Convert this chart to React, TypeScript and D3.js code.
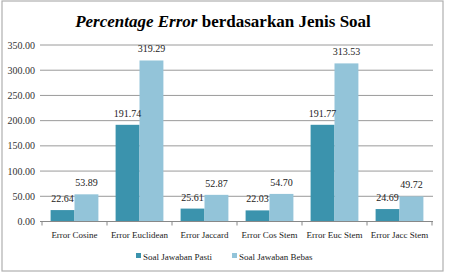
import * as d3 from "d3";
import React from "react";

const categories = [
  "Error Cosine",
  "Error Euclidean",
  "Error Jaccard",
  "Error Cos Stem",
  "Error Euc Stem",
  "Error Jacc Stem",
];
const pasti = [22.64, 191.74, 25.61, 22.03, 191.77, 24.69];
const bebas = [53.89, 319.29, 52.87, 54.7, 313.53, 49.72];
const seriesNames = ["Soal Jawaban Pasti", "Soal Jawaban Bebas"];
const yTicks = [0, 50, 100, 150, 200, 250, 300, 350];

const colors = ["#3b93ad", "#93c4d9"];
const font = "Liberation Serif, Times New Roman, DejaVu Serif, serif";

const App = () => {
  const width = 449;
  const height = 273;
  const left = 42;
  const right = 432;
  const top = 45;
  const bottom = 221.5;

  const x = d3.scaleBand<string>().domain(categories).range([left, right]);
  const inner = d3
    .scaleBand<number>()
    .domain([0, 1])
    .range([0, x.bandwidth()])
    .paddingOuter(0.36)
    .paddingInner(0);
  const y = d3.scaleLinear().domain([0, 350]).range([bottom, top]);

  const series = [pasti, bebas];

  return (
    <svg
      width={width}
      height={height}
      style={{ position: "absolute", left: 0, top: 0, background: "#fff", fontFamily: font }}
    >
      <rect x={2} y={1} width={441} height={270} fill="#fff" stroke="#b0b0b0" strokeWidth={1.2} />
      <text x={223} y={27} textAnchor="middle" fontSize={17} fontWeight="bold" fill="#000">
        <tspan fontStyle="italic">Percentage Error</tspan> berdasarkan Jenis Soal
      </text>

      {yTicks.map((t) => (
        <g key={t}>
          {t > 0 && (
            <line x1={40} x2={433} y1={y(t)} y2={y(t)} stroke="#9a9a9a" strokeWidth={1} />
          )}
          <text x={35} y={y(t) + 3.5} textAnchor="end" fontSize={10} fill="#333">
            {t.toFixed(2)}
          </text>
        </g>
      ))}

      {categories.map((c, i) => (
        <g key={c}>
          {series.map((s, k) => (
            <rect
              key={k}
              x={(x(c) || 0) + (inner(k) || 0)}
              y={y(s[i])}
              width={inner.bandwidth()}
              height={bottom - y(s[i])}
              fill={colors[k]}
            />
          ))}
          {series.map((s, k) => (
            <text
              key={"l" + k}
              x={(x(c) || 0) + (inner(k) || 0) + inner.bandwidth() / 2}
              y={y(s[i]) - 8}
              textAnchor="middle"
              fontSize={10}
              fill="#222"
            >
              {s[i].toFixed(2)}
            </text>
          ))}
          <text
            x={(x(c) || 0) + x.bandwidth() / 2}
            y={238}
            textAnchor="middle"
            fontSize={9}
            fill="#222"
          >
            {c}
          </text>
        </g>
      ))}

      <line x1={40} x2={433} y1={bottom} y2={bottom} stroke="#888" strokeWidth={1} />
      {[...categories.map((c) => x(c) || 0), right].map((v, i) => (
        <line key={i} x1={v} x2={v} y1={bottom} y2={bottom + 4} stroke="#888" strokeWidth={1} />
      ))}

      {seriesNames.map((n, k) => (
        <g key={n} transform={`translate(${k === 0 ? 136 : 232},256)`}>
          <rect x={0} y={-3} width={5} height={5} fill={colors[k]} />
          <text x={7} y={3.5} fontSize={9} fill="#222">
            {n}
          </text>
        </g>
      ))}
    </svg>
  );
};

export default App;
